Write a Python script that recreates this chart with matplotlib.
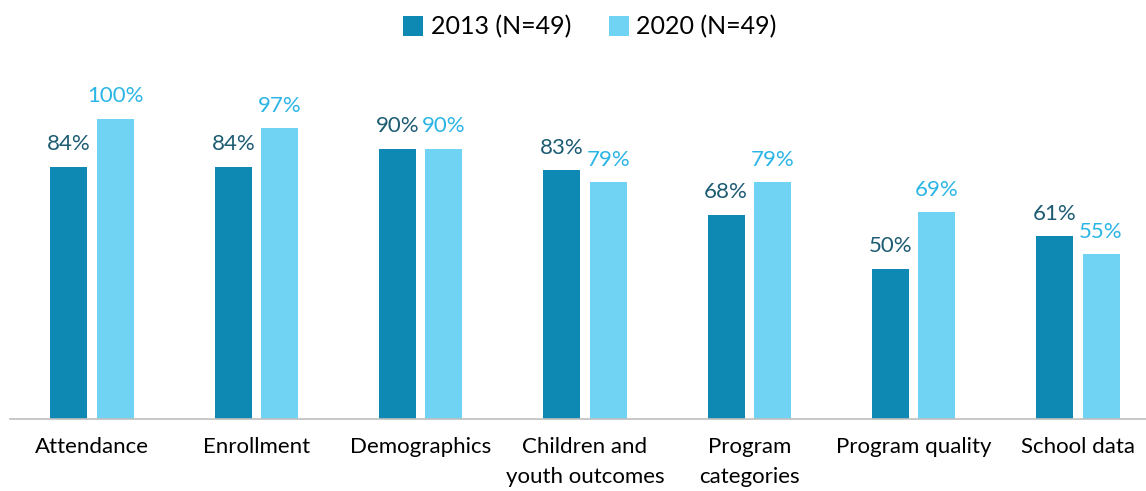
import matplotlib.pyplot as plt
import numpy as np

plt.rcParams['font.family'] = ['Lato', 'DejaVu Sans']

categories = ['Attendance', 'Enrollment', 'Demographics', 'Children and\nyouth outcomes',
              'Program\ncategories', 'Program quality', 'School data']
vals_2013 = [84, 84, 90, 83, 68, 50, 61]
vals_2020 = [100, 97, 90, 79, 79, 69, 55]

c_dark = '#0E89B3'
c_light = '#70D3F3'
t_dark = '#1C5B72'
t_light = '#2BB5E6'

fig = plt.figure(figsize=(11.46, 4.91), dpi=100)
# baseline at y=419px, 100% at y=119px
ax = fig.add_axes([10 / 1146, (491 - 419) / 491, (1160 - 10) / 1146, 300 / 491])

x = np.arange(len(categories))
w = 0.225
off = 0.141
b1 = ax.bar(x - off, vals_2013, w, color=c_dark, label='2013 (N=49)')
b2 = ax.bar(x + off, vals_2020, w, color=c_light, label='2020 (N=49)')

for xi, v in zip(x, vals_2013):
    ax.annotate(f'{v}%', (xi - off, v), xytext=(0, 9), textcoords='offset points',
                ha='center', va='bottom', fontsize=16, color=t_dark)
for xi, v in zip(x, vals_2020):
    ax.annotate(f'{v}%', (xi + off, v), xytext=(0, 9), textcoords='offset points',
                ha='center', va='bottom', fontsize=16, color=t_light)

ax.set_xlim(-0.5, 6.5)
ax.set_ylim(0, 100)
ax.set_xticks(x)
ax.set_xticklabels(categories, fontsize=16, linespacing=1.65)
ax.tick_params(axis='x', length=0, pad=13)
ax.set_yticks([])
for s in ['top', 'right', 'left']:
    ax.spines[s].set_visible(False)
ax.spines['bottom'].set_color('#BFBFBF')
ax.spines['bottom'].set_linewidth(1.2)

fig.legend(handles=[b1, b2], loc='center', bbox_to_anchor=(590 / 1146, 1 - 27 / 491),
           ncol=2, frameon=False, fontsize=18, handlelength=0.8, handleheight=0.8,
           handletextpad=0.3, columnspacing=1.5)

fig.savefig('out.png', dpi=100)
